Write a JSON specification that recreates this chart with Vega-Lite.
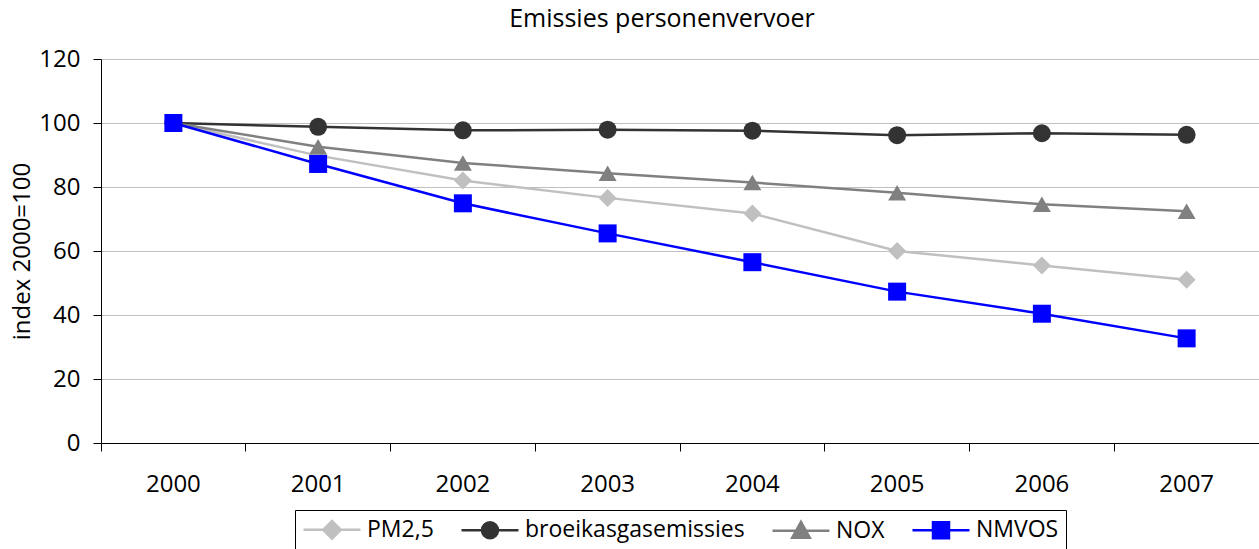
{
  "$schema": "https://vega.github.io/schema/vega-lite/v6.json",
  "autosize": "none",
  "width": 1158,
  "height": 384,
  "padding": {"left": 101, "top": 59, "right": 0, "bottom": 106},
  "background": "white",
  "title": {
    "text": "Emissies personenvervoer",
    "font": "Open Sans",
    "fontSize": 25,
    "fontWeight": "normal",
    "color": "black",
    "anchor": "middle",
    "frame": "group",
    "dx": -18,
    "offset": 15
  },
  "data": {
    "values": [
      {"year": "2000", "series": "PM2,5", "value": 100},
      {"year": "2001", "series": "PM2,5", "value": 89.8},
      {"year": "2002", "series": "PM2,5", "value": 82},
      {"year": "2003", "series": "PM2,5", "value": 76.6},
      {"year": "2004", "series": "PM2,5", "value": 71.7},
      {"year": "2005", "series": "PM2,5", "value": 60},
      {"year": "2006", "series": "PM2,5", "value": 55.5},
      {"year": "2007", "series": "PM2,5", "value": 51},
      {"year": "2000", "series": "broeikasgasemissies", "value": 100},
      {"year": "2001", "series": "broeikasgasemissies", "value": 98.8},
      {"year": "2002", "series": "broeikasgasemissies", "value": 97.7},
      {"year": "2003", "series": "broeikasgasemissies", "value": 97.9},
      {"year": "2004", "series": "broeikasgasemissies", "value": 97.6},
      {"year": "2005", "series": "broeikasgasemissies", "value": 96.2},
      {"year": "2006", "series": "broeikasgasemissies", "value": 96.8},
      {"year": "2007", "series": "broeikasgasemissies", "value": 96.3},
      {"year": "2000", "series": "NOX", "value": 100},
      {"year": "2001", "series": "NOX", "value": 92.6},
      {"year": "2002", "series": "NOX", "value": 87.5},
      {"year": "2003", "series": "NOX", "value": 84.3},
      {"year": "2004", "series": "NOX", "value": 81.4},
      {"year": "2005", "series": "NOX", "value": 78.2},
      {"year": "2006", "series": "NOX", "value": 74.6},
      {"year": "2007", "series": "NOX", "value": 72.4},
      {"year": "2000", "series": "NMVOS", "value": 100},
      {"year": "2001", "series": "NMVOS", "value": 87.2},
      {"year": "2002", "series": "NMVOS", "value": 74.9},
      {"year": "2003", "series": "NMVOS", "value": 65.5},
      {"year": "2004", "series": "NMVOS", "value": 56.5},
      {"year": "2005", "series": "NMVOS", "value": 47.3},
      {"year": "2006", "series": "NMVOS", "value": 40.4},
      {"year": "2007", "series": "NMVOS", "value": 32.7}
    ]
  },
  "layer": [
    {
      "mark": {"type": "line", "strokeWidth": 2.5},
      "encoding": {
        "x": {
          "field": "year",
          "type": "ordinal",
          "scale": {"type": "band", "paddingInner": 0, "paddingOuter": 0},
          "axis": {
            "orient": "bottom",
            "title": null,
            "labels": false,
            "ticks": true,
            "tickSize": 8,
            "bandPosition": 0,
            "domain": true,
            "domainColor": "black",
            "tickColor": "black",
            "grid": false
          }
        },
        "y": {
          "field": "value",
          "type": "quantitative",
          "scale": {"domain": [0, 120], "nice": false},
          "axis": {
            "values": [0, 20, 40, 60, 80, 100, 120],
            "title": "index 2000=100",
            "titleFont": "Open Sans",
            "titleFontSize": 24,
            "titleFontWeight": "normal",
            "titleColor": "black",
            "titleX": -79,
            "titleY": 192,
            "titleAngle": -90,
            "titleAlign": "center",
            "titleBaseline": "middle",
            "labelFont": "Open Sans",
            "labelFontSize": 24,
            "labelColor": "black",
            "labelPadding": 13,
            "tickSize": 8,
            "tickColor": "black",
            "domainColor": "black",
            "grid": true,
            "gridColor": "#c0c0c0",
            "gridWidth": 1
          }
        },
        "color": {
          "field": "series",
          "type": "nominal",
          "scale": {
            "domain": ["PM2,5", "broeikasgasemissies", "NOX", "NMVOS"],
            "range": ["#c0c0c0", "#333333", "#808080", "#0000ff"]
          },
          "legend": {
            "title": null,
            "orient": "none",
            "legendX": 194,
            "legendY": 451,
            "direction": "horizontal",
            "strokeColor": "black",
            "padding": 7,
            "columnPadding": 22,
            "labelOffset": 40,
            "labelLimit": 400,
            "labelFont": "Open Sans",
            "labelFontSize": 23,
            "labelColor": "black",
            "symbolSize": 484,
            "symbolStrokeWidth": 2.5,
            "encode": {
              "symbols": {
                "update": {
                  "shape": {"signal": "datum.value === 'PM2,5' ? 'M-1,0H4.18M0.79,0L1.59,-0.8L2.39,0L1.59,0.8Z' : datum.value === 'broeikasgasemissies' ? 'M-1,0H4.18M2.317,0A0.727,0.727,0,1,1,0.863,0A0.727,0.727,0,1,1,2.317,0Z' : datum.value === 'NOX' ? 'M-1,0H4.18M1.59,-0.8L2.39,0.65L0.79,0.65Z' : 'M-1,0H4.18M0.863,-0.727H2.317V0.727H0.863Z'"},
                  "fill": {"signal": "datum.value === 'PM2,5' ? '#c0c0c0' : datum.value === 'broeikasgasemissies' ? '#333333' : datum.value === 'NOX' ? '#808080' : '#0000ff'"},
                  "stroke": {"signal": "datum.value === 'PM2,5' ? '#c0c0c0' : datum.value === 'broeikasgasemissies' ? '#333333' : datum.value === 'NOX' ? '#808080' : '#0000ff'"}
                }
              }
            }
          }
        }
      }
    },
    {
      "mark": {"type": "point", "filled": true, "opacity": 1, "size": 324},
      "encoding": {
        "x": {
          "field": "year",
          "type": "ordinal",
          "axis": {
            "orient": "bottom",
            "title": null,
            "labels": true,
            "ticks": false,
            "domain": false,
            "grid": false,
            "labelFont": "Open Sans",
            "labelFontSize": 24,
            "labelColor": "black",
            "labelAngle": 0,
            "labelPadding": 29
          }
        },
        "y": {"field": "value", "type": "quantitative"},
        "color": {
          "field": "series",
          "type": "nominal",
          "scale": {
            "domain": ["PM2,5", "broeikasgasemissies", "NOX", "NMVOS"],
            "range": ["#c0c0c0", "#333333", "#808080", "#0000ff"]
          },
          "legend": null
        },
        "shape": {
          "field": "series",
          "type": "nominal",
          "scale": {
            "domain": ["PM2,5", "broeikasgasemissies", "NOX", "NMVOS"],
            "range": ["diamond", "circle", "triangle-up", "square"]
          },
          "legend": null
        }
      }
    }
  ],
  "resolve": {"axis": {"x": "independent"}, "scale": {"color": "independent"}},
  "config": {"view": {"stroke": null}}
}
